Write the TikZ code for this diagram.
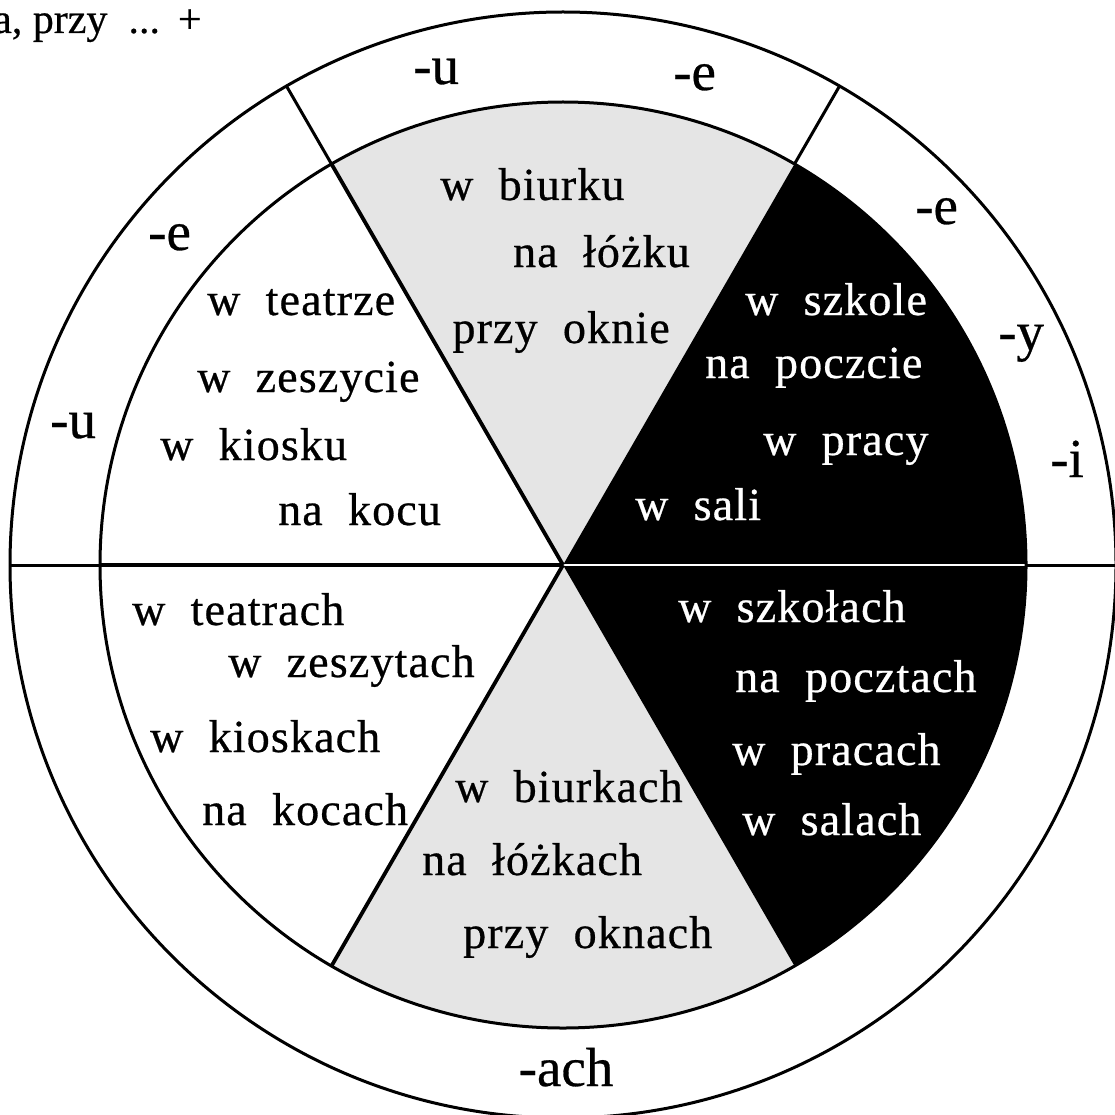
\documentclass[tikz,border=0pt]{standalone}
\usepackage{fontspec}
\setmainfont{Liberation Serif}
\newfontfamily\wheelfont{Liberation Serif}[LetterSpace=2.5,WordSpace=2.0,FakeBold=0.6]
\newfontfamily\sfxfont{Liberation Serif}[FakeBold=0.5]
\newfontfamily\headfont{Liberation Serif}[FakeBold=0.5]
\definecolor{sectorgray}{gray}{0.9}
\begin{document}
\begin{tikzpicture}[x=1pt,y=-1pt,
  wtxt/.style={font=\wheelfont\fontsize{46}{52}\selectfont, inner sep=0pt, anchor=base west},
  wtxtr/.style={wtxt, anchor=base east},
  inv/.style={text=white},
  sfx/.style={font=\sfxfont\fontsize{55}{60}\selectfont, inner sep=0pt, anchor=base west},
  ring/.style={line width=3pt},
  spoke/.style={line width=3.8pt},
]
\useasboundingbox (0,0) rectangle (1115,1115);
\fill[white] (0,0) rectangle (1115,1115);

\begin{scope}[y=1pt, shift={(563,-565)}]
  \coordinate (O) at (0,0);
  \coordinate (E0) at (0:463);   \coordinate (F0) at (0:553);
  \coordinate (E60) at (60:463); \coordinate (F60) at (60:553);
  \coordinate (E120) at (120:463); \coordinate (F120) at (120:553);
  \coordinate (E180) at (180:463); \coordinate (F180) at (180:553);
  \coordinate (E240) at (240:463);
  % sectors
  \fill[sectorgray] (O) -- (E60) arc[start angle=60, end angle=120, radius=463] -- cycle;
  \fill[sectorgray] (O) -- (E240) arc[start angle=240, end angle=300, radius=463] -- cycle;
  \fill[black] (O) -- (300:463) arc[start angle=-60, end angle=60, radius=463] -- cycle;
  % white gap between the black halves
  \draw[white, line width=2.2pt] (O) -- (E0);
  % circles
  \draw[ring] (O) circle[radius=463];
  \draw[ring] (O) circle[radius=553];
  % dividing lines
  \draw[ring] (F180) -- (E180);
  \draw[line width=4pt] (E180) -- (O);
  \draw[ring] (E0) -- (F0);
  \draw[spoke] (O) -- (E120);
  \draw[ring] (E120) -- (F120);
  \draw[spoke] (O) -- (E240);
  \draw[ring] (E60) -- (F60);
\end{scope}

% heading fragment
\node[font=\headfont\fontsize{42}{48}\selectfont, inner sep=0pt, anchor=base west] (head) at (-7,33) {a, przy\hspace{21pt}...\hspace{18pt}+};

% ring suffixes
\node[sfx] (su1) at (413,84) {-u};
\node[sfx] (se1) at (673,90) {-e};
\node[sfx] (se2) at (148,250) {-e};
\node[sfx] (su2) at (50,438) {-u};
\node[sfx] (se3) at (915,224) {-e};
\node[sfx] (sy) at (998,350) {-y};
\node[sfx] (si) at (1050,477) {-i};
\node[sfx, anchor=base] (sach) at (566,1086) {-ach};

% upper left (white)
\node[wtxt] (t1) at (207,315) {w teatrze};
\node[wtxt] (t2) at (197,392) {w zeszycie};
\node[wtxt] (t3) at (160,460) {w kiosku};
\node[wtxt] (t4) at (278,525) {na kocu};

% top (gray)
\node[wtxt] (g1) at (440,200) {w biurku};
\node[wtxtr] (g2) at (690,267) {na łóżku};
\node[wtxtr] (g3) at (670,343) {przy oknie};

% upper right (black)
\node[wtxt, inv] (b1) at (745,315) {w szkole};
\node[wtxt, inv] (b2) at (705,378) {na poczcie};
\node[wtxt, inv] (b3) at (763,455) {w pracy};
\node[wtxt, inv] (b4) at (635,520) {w sali};

% lower left (white)
\node[wtxt] (l1) at (132,625) {w teatrach};
\node[wtxt] (l2) at (228,677) {w zeszytach};
\node[wtxt] (l3) at (150,752) {w kioskach};
\node[wtxt] (l4) at (202,825) {na kocach};

% bottom (gray)
\node[wtxt] (m1) at (455,802) {w biurkach};
\node[wtxt] (m2) at (422,875) {na łóżkach};
\node[wtxt] (m3) at (463,948) {przy oknach};

% lower right (black)
\node[wtxt, inv] (r1) at (678,622) {w szkołach};
\node[wtxt, inv] (r2) at (735,692) {na pocztach};
\node[wtxt, inv] (r3) at (732,765) {w pracach};
\node[wtxt, inv] (r4) at (742,835) {w salach};
\end{tikzpicture}
\end{document}
